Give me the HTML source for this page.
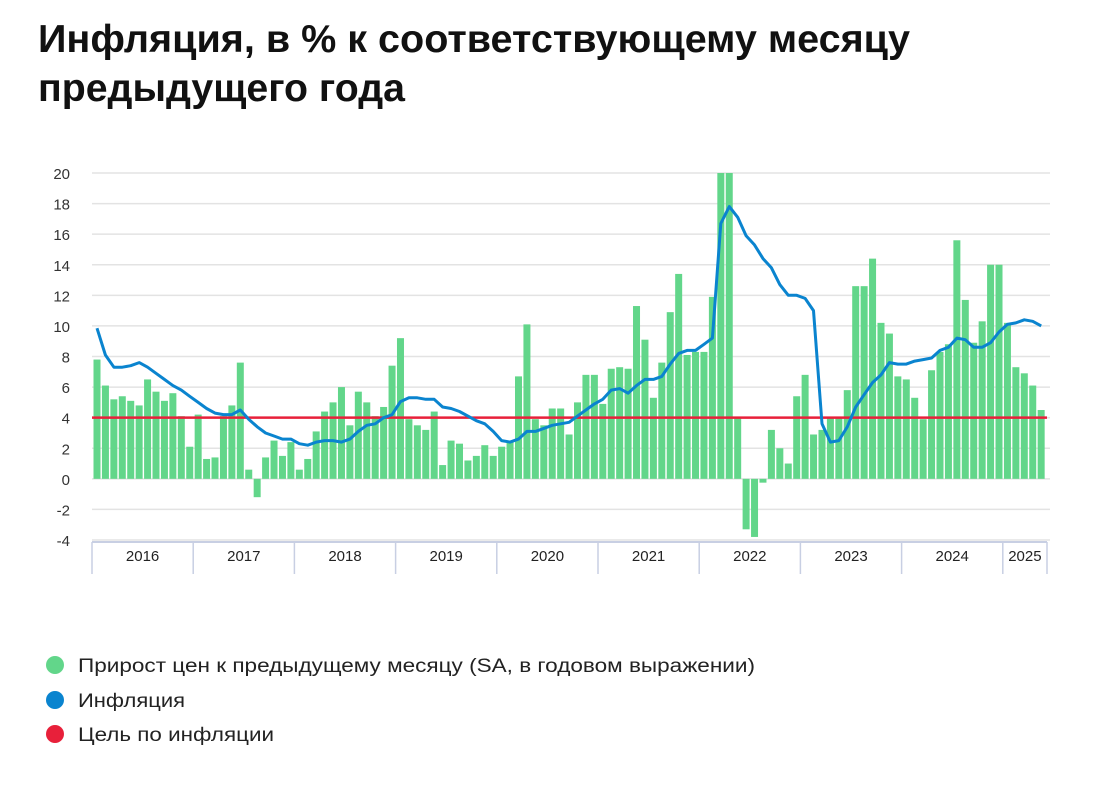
<!DOCTYPE html>
<html><head><meta charset="utf-8">
<style>
html,body{margin:0;padding:0;background:#fff;}
svg{display:block;font-family:"Liberation Sans","DejaVu Sans",sans-serif;}
</style></head>
<body>
<svg id="chart" width="1093" height="785" viewBox="0 0 1093 785" xmlns="http://www.w3.org/2000/svg">
<text x="38" y="52" font-size="39" font-weight="bold" fill="#111" textLength="872" lengthAdjust="spacingAndGlyphs">Инфляция, в % к соответствующему месяцу</text>
<text x="38" y="101" font-size="39" font-weight="bold" fill="#111" textLength="367" lengthAdjust="spacingAndGlyphs">предыдущего года</text>
<g id="grid"></g>
<g id="bars"></g>
<g id="target"></g>
<g id="line"></g>
<g id="xaxis"></g>
<g>
<circle cx="55" cy="665" r="9" fill="#62d68a"/>
<text x="78" y="672" font-size="19" fill="#222" textLength="677" lengthAdjust="spacingAndGlyphs">Прирост цен к предыдущему месяцу (SA, в годовом выражении)</text>
<circle cx="55" cy="700" r="9" fill="#0a84cf"/>
<text x="78" y="707" font-size="19" fill="#222" textLength="107" lengthAdjust="spacingAndGlyphs">Инфляция</text>
<circle cx="55" cy="734" r="9" fill="#e8203a"/>
<text x="78" y="741" font-size="19" fill="#222" textLength="196" lengthAdjust="spacingAndGlyphs">Цель по инфляции</text>
</g>
</svg>
<script>
const monthly = [7.8,6.1,5.2,5.4,5.1,4.8,6.5,5.7,5.1,5.6,4.1,2.1,
4.2,1.3,1.4,4.1,4.8,7.6,0.6,-1.2,1.4,2.5,1.5,2.4,
0.6,1.3,3.1,4.4,5.0,6.0,3.5,5.7,5.0,4.1,4.7,7.4,
9.2,3.9,3.5,3.2,4.4,0.9,2.5,2.3,1.2,1.5,2.2,1.5,
2.1,2.4,6.7,10.1,3.9,3.5,4.6,4.6,2.9,5.0,6.8,6.8,
4.9,7.2,7.3,7.2,11.3,9.1,5.3,7.6,10.9,13.4,8.1,8.3,
8.3,11.9,22,22,4.0,-3.3,-3.8,-0.25,3.2,2.0,1.0,5.4,
6.8,2.9,3.2,4.0,4.0,5.8,12.6,12.6,14.4,10.2,9.5,6.7,
6.5,5.3,3.9,7.1,8.3,8.8,15.6,11.7,8.9,10.3,14.0,14.0,
10.2,7.3,6.9,6.1,4.5];
const inflation = [9.85,8.1,7.3,7.3,7.4,7.6,7.3,6.9,6.5,6.1,5.8,5.4,
5.0,4.6,4.3,4.2,4.2,4.5,3.9,3.4,3.0,2.8,2.6,2.6,
2.3,2.2,2.4,2.5,2.5,2.4,2.6,3.1,3.5,3.6,4.0,4.2,
5.05,5.3,5.3,5.2,5.2,4.7,4.6,4.4,4.1,3.8,3.6,3.1,
2.5,2.4,2.6,3.1,3.1,3.3,3.5,3.6,3.7,4.1,4.5,4.9,
5.2,5.8,5.9,5.6,6.1,6.5,6.5,6.7,7.5,8.2,8.4,8.4,
8.8,9.2,16.7,17.8,17.1,15.9,15.3,14.4,13.8,12.7,12.0,12.0,
11.8,11.0,3.6,2.4,2.5,3.4,4.7,5.5,6.3,6.8,7.6,7.5,
7.5,7.7,7.8,7.9,8.4,8.6,9.2,9.1,8.6,8.6,8.9,9.6,
10.1,10.2,10.4,10.3,10.0];
const target = 4;
const yTicks = [20,18,16,14,12,10,8,6,4,2,0,-2,-4];
const years = ["2016","2017","2018","2019","2020","2021","2022","2023","2024","2025"];

const NS="http://www.w3.org/2000/svg";
const X0=92, X1=1050, YMAX=20, YMIN=-4, PT=173, PB=540;
function y(v){return PT+(YMAX-v)*(PB-PT)/(YMAX-YMIN);}
function xm(i){return 97+i*8.43;}
function yearX(k){return 92+k*101.2;}
function mk(tag,attrs,parent){const e=document.createElementNS(NS,tag);for(const k in attrs)e.setAttribute(k,attrs[k]);parent.appendChild(e);return e;}

const grid=document.getElementById('grid');
yTicks.forEach(t=>{
  const l=mk('line',{x1:X0,x2:X1,y1:y(t),y2:y(t),stroke:'#e3e3e3','stroke-width':1.5},grid);
  
  
  const tx=mk('text',{x:70,y:y(t)+6,'text-anchor':'end','font-size':15,fill:'#333'},grid);
  tx.textContent=t;
  
  
});

const bars=document.getElementById('bars');
monthly.forEach((v,i)=>{
  const vv=Math.max(YMIN,Math.min(YMAX,v));
  const top=Math.min(y(vv),y(0)), h=Math.abs(y(vv)-y(0));
  const r=mk('rect',{x:xm(i)-3.5,y:top,width:7,height:h,fill:'#62d68a'},bars);
  
  
});

const tg=document.getElementById('target');
const tl=mk('line',{x1:X0,x2:1047,y1:y(target),y2:y(target),stroke:'#e8203a','stroke-width':2.5},tg);



const lg=document.getElementById('line');
const pts=inflation.map((v,i)=>xm(i).toFixed(1)+','+y(v).toFixed(1)).join(' ');
const pl=mk('polyline',{points:pts,fill:'none',stroke:'#0a84cf','stroke-width':3,'stroke-linejoin':'round'},lg);



const xa=document.getElementById('xaxis');
const axl=mk('line',{x1:X0,x2:1047,y1:542,y2:542,stroke:'#c8cfe3','stroke-width':2},xa);


const bounds=years.map((_,k)=>yearX(k)).concat([1047]);
bounds.forEach(b=>{
  const d=mk('line',{x1:b,x2:b,y1:542,y2:574,stroke:'#c8cfe3','stroke-width':1.5},xa);
  
  
});
years.forEach((yr,k)=>{
  const c=(bounds[k]+bounds[k+1])/2;
  const t=mk('text',{x:c,y:561,'text-anchor':'middle','font-size':15,fill:'#222'},xa);
  t.textContent=yr;
  
  
});
</script>
</body></html>
